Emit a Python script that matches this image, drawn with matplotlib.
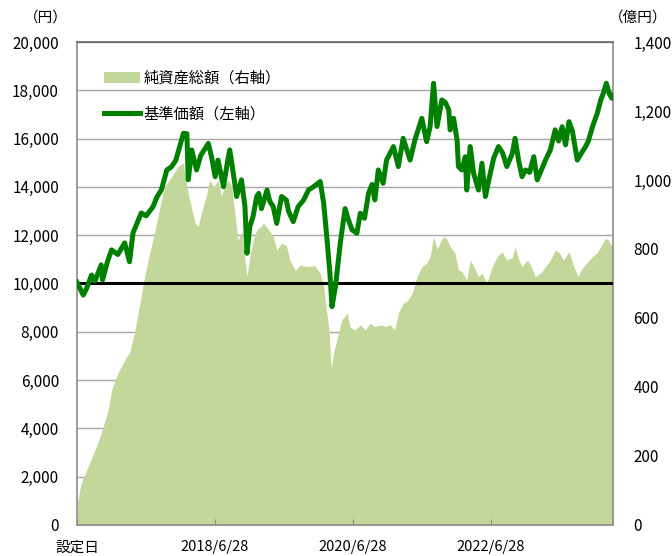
import matplotlib
matplotlib.use("Agg")
import matplotlib.pyplot as plt
from matplotlib.lines import Line2D
from matplotlib.patches import Patch

plt.rcParams["font.family"] = ["Noto Sans CJK JP", "DejaVu Sans"]

# 基準価額 (円) - 年 (小数) と値
nav_years = [
    2016.50, 2016.59, 2016.64, 2016.71, 2016.76, 2016.85, 2016.87, 2016.94,
    2017.00, 2017.09, 2017.19, 2017.26, 2017.31, 2017.43, 2017.50, 2017.60,
    2017.66, 2017.72, 2017.80, 2017.87, 2017.93, 2018.04, 2018.09, 2018.11,
    2018.16, 2018.23, 2018.29, 2018.40, 2018.45, 2018.50, 2018.54, 2018.62,
    2018.67, 2018.71, 2018.76, 2018.81, 2018.88, 2018.93, 2018.96, 2019.00,
    2019.05, 2019.10, 2019.13, 2019.17, 2019.25, 2019.29, 2019.34, 2019.39,
    2019.46, 2019.53, 2019.56, 2019.63, 2019.70, 2019.78, 2019.85, 2019.92,
    2020.02, 2020.07, 2020.11, 2020.16, 2020.19, 2020.24, 2020.31, 2020.38,
    2020.42, 2020.48, 2020.55, 2020.60, 2020.66, 2020.72, 2020.77, 2020.81,
    2020.86, 2020.93, 2020.98, 2021.08, 2021.15, 2021.22, 2021.32, 2021.39,
    2021.49, 2021.56, 2021.61, 2021.66, 2021.71, 2021.78, 2021.83, 2021.88,
    2021.90, 2021.95, 2022.00, 2022.02, 2022.07, 2022.12, 2022.14, 2022.19,
    2022.24, 2022.31, 2022.36, 2022.41, 2022.46, 2022.53, 2022.60, 2022.66,
    2022.72, 2022.80, 2022.84, 2022.89, 2022.94, 2022.99, 2023.05, 2023.11,
    2023.16, 2023.22, 2023.28, 2023.35, 2023.42, 2023.47, 2023.52, 2023.57,
    2023.62, 2023.67, 2023.74, 2023.80, 2023.86, 2023.90, 2023.96, 2024.03,
    2024.08, 2024.12, 2024.16, 2024.20, 2024.24, 2024.25,
]
nav_values = [
    10050, 9520, 9800, 10350, 10100, 10770, 10150, 10900,
    11390, 11200, 11680, 10900, 12090, 12920, 12800, 13180,
    13600, 13870, 14700, 14840, 15100, 16220, 16200, 14290,
    15530, 14700, 15300, 15800, 15200, 14420, 15110, 14010,
    14900, 15530, 14600, 13600, 14290, 13200, 11250, 12350,
    12800, 13600, 13730, 13100, 13870, 13400, 13180, 12490,
    13600, 13450, 13000, 12560, 13180, 13460, 13870, 14000,
    14220, 13320, 12080, 10420, 9040, 9870, 11670, 13100,
    12700, 12220, 12080, 12910, 12700, 13740, 14100, 13460,
    14700, 14150, 15110, 15670, 14840, 16010, 15110, 15940,
    16840, 15870, 16500, 18290, 16500, 17600, 17500, 17190,
    16360, 16840, 15940, 14840, 14700, 15250, 13870, 15670,
    14560, 13870, 14980, 13600, 14290, 15190, 15670, 15400,
    14840, 15390, 16010, 15110, 14420, 14700, 14600, 15250,
    14290, 14700, 15110, 15530, 16360, 15900, 16490, 15740,
    16700, 16300, 15110, 15400, 15670, 15900, 16490, 17050,
    17600, 17900, 18290, 17880, 17670, 17800,
]

# 純資産総額 (億円)
asset_years = [
    2016.50, 2016.56, 2016.66, 2016.76, 2016.85, 2016.95, 2017.00, 2017.09,
    2017.22, 2017.26, 2017.34, 2017.41, 2017.46, 2017.53, 2017.63, 2017.70,
    2017.77, 2017.87, 2017.96, 2018.04, 2018.09, 2018.13, 2018.21, 2018.25,
    2018.30, 2018.38, 2018.42, 2018.48, 2018.54, 2018.59, 2018.64, 2018.69,
    2018.74, 2018.79, 2018.83, 2018.89, 2018.93, 2018.96, 2019.00, 2019.05,
    2019.10, 2019.16, 2019.20, 2019.26, 2019.34, 2019.39, 2019.46, 2019.53,
    2019.58, 2019.66, 2019.73, 2019.80, 2019.87, 2019.94, 2020.02, 2020.07,
    2020.11, 2020.15, 2020.18, 2020.21, 2020.26, 2020.33, 2020.41, 2020.45,
    2020.52, 2020.60, 2020.67, 2020.74, 2020.81, 2020.89, 2020.96, 2021.03,
    2021.10, 2021.15, 2021.22, 2021.28, 2021.35, 2021.42, 2021.49, 2021.56,
    2021.61, 2021.66, 2021.71, 2021.76, 2021.80, 2021.85, 2021.90, 2021.97,
    2022.02, 2022.07, 2022.14, 2022.19, 2022.24, 2022.31, 2022.36, 2022.43,
    2022.51, 2022.58, 2022.65, 2022.72, 2022.80, 2022.84, 2022.89, 2022.94,
    2023.02, 2023.06, 2023.13, 2023.21, 2023.28, 2023.35, 2023.42, 2023.48,
    2023.54, 2023.62, 2023.69, 2023.75, 2023.81, 2023.88, 2023.96, 2024.03,
    2024.08, 2024.15, 2024.19, 2024.24, 2024.25,
]
asset_values = [
    60, 121, 169, 217, 266, 333, 391, 440,
    488, 500, 565, 643, 701, 768, 855, 923,
    981, 1010, 1039, 1049, 981, 942, 875, 865,
    904, 962, 1000, 980, 1000, 952, 985, 1000,
    980, 894, 826, 850, 770, 720, 778, 826,
    855, 865, 875, 860, 836, 797, 817, 810,
    768, 739, 754, 750, 749, 752, 730, 691,
    623, 560, 449, 498, 536, 594, 614, 575,
    565, 580, 565, 585, 575, 580, 575, 580,
    565, 614, 643, 650, 672, 720, 749, 759,
    778, 836, 800, 820, 836, 830, 807, 788,
    739, 735, 710, 768, 750, 720, 730, 701,
    749, 778, 792, 768, 775, 807, 770, 749,
    768, 755, 720, 730, 749, 768, 797, 790,
    768, 792, 749, 720, 744, 760, 778, 790,
    807, 831, 826, 807, 815,
]

tick_years = [2016.50, 2018.49, 2020.49, 2022.49]
tick_labels = ["設定日", "2018/6/28", "2020/6/28", "2022/6/28"]
left_ticks = list(range(0, 20001, 2000))
right_ticks = list(range(0, 1401, 200))
base_value = 10000

AREA_COLOR = "#c4d79b"
LINE_COLOR = "#008000"
SPINE_COLOR = "#8c8c8c"


def main():
    fig = plt.figure(figsize=(6.72, 5.56), dpi=100)
    rect = [0.1146, 0.0558, 0.7969, 0.8687]

    # 左軸 (円): 目盛線のみ
    ax = fig.add_axes(rect)
    ax.set_ylim(0, 20000)
    ax.set_yticks(left_ticks)
    ax.set_yticklabels([f"{v:,}" for v in left_ticks])
    ax.grid(axis="y", color="#a6a6a6", linewidth=1.0)
    ax.tick_params(axis="y", length=0, pad=13, labelsize=11)
    ax.tick_params(axis="x", length=0, labelbottom=False)
    for s in ax.spines.values():
        s.set_visible(False)

    # 右軸 (億円): 純資産総額
    ax2 = ax.twinx()
    ax2.fill_between(asset_years, asset_values, 0, color=AREA_COLOR,
                     linewidth=0)
    ax2.set_ylim(0, 1400)
    ax2.set_yticks(right_ticks)
    ax2.set_yticklabels([f"{v:,}" for v in right_ticks])
    ax2.tick_params(axis="y", length=0, pad=15, labelsize=11)
    for s in ax2.spines.values():
        s.set_color(SPINE_COLOR)
        s.set_linewidth(1.2)
    ax2.spines["top"].set_color("#666666")

    # 基準価額 (左軸と同じ目盛)
    ax3 = fig.add_axes(rect, sharex=ax, sharey=ax)
    ax3.patch.set_visible(False)
    for s in ax3.spines.values():
        s.set_visible(False)
    ax3.yaxis.set_visible(False)
    ax3.axhline(base_value, color="black", linewidth=2.2)
    ax3.plot(nav_years, nav_values, color=LINE_COLOR, linewidth=3.6,
             solid_joinstyle="round")
    ax3.set_xlim(nav_years[0], nav_years[-1])
    ax3.set_xticks(tick_years)
    ax3.set_xticklabels(tick_labels)
    ax3.tick_params(axis="x", direction="in", length=4, color=SPINE_COLOR,
                    pad=11, labelsize=10.5)

    handles = [
        Patch(facecolor=AREA_COLOR, edgecolor="none"),
        Line2D([], [], color=LINE_COLOR, linewidth=3.6),
    ]
    ax3.legend(handles, ["純資産総額（右軸）", "基準価額（左軸）"],
               loc="upper left", bbox_to_anchor=(0.05, 0.943),
               frameon=False, fontsize=11, handlelength=2.4,
               handletextpad=0.2, labelspacing=1.25, borderpad=0,
               borderaxespad=0)

    fig.text(0.068, 0.969, "（円）", ha="center", va="center", fontsize=10.5)
    fig.text(0.950, 0.969, "（億円）", ha="center", va="center",
             fontsize=10.5)

    fig.savefig("out.png", dpi=100)


if __name__ == "__main__":
    main()
